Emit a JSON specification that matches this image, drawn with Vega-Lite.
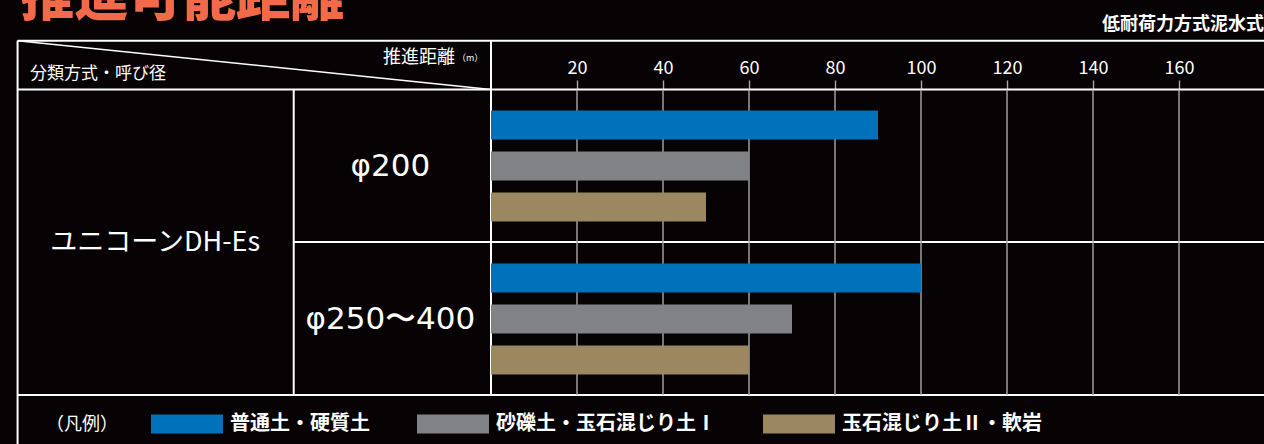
{
  "$schema": "https://vega.github.io/schema/vega-lite/v6.json",
  "width": 1264,
  "height": 444,
  "autosize": {"type": "none"},
  "padding": 0,
  "data": {"values": [{}]},
  "datasets": {
    "bars": [
      {"size": "φ200", "soil": "普通土・硬質土", "distance": 90},
      {"size": "φ200", "soil": "砂礫土・玉石混じり土Ⅰ", "distance": 60},
      {"size": "φ200", "soil": "玉石混じり土Ⅱ・軟岩", "distance": 50},
      {"size": "φ250〜400", "soil": "普通土・硬質土", "distance": 100},
      {"size": "φ250〜400", "soil": "砂礫土・玉石混じり土Ⅰ", "distance": 70},
      {"size": "φ250〜400", "soil": "玉石混じり土Ⅱ・軟岩", "distance": 60}
    ],
    "sizes": [{"size": "φ200"}, {"size": "φ250〜400"}],
    "ticks": [{"v": 20}, {"v": 40}, {"v": 60}, {"v": 80}, {"v": 100}, {"v": 120}, {"v": 140}, {"v": 160}]
  },
  "layer": [
    {
      "layer": [
        {
          "mark": {"type": "rule", "color": "#ffffff", "strokeWidth": 2},
          "encoding": {
            "x": {"datum": -110.1, "type": "quantitative"},
            "x2": {"datum": 179.77},
            "y": {"datum": -0.319, "type": "quantitative", "scale": {"domain": [-0.58497, 2.31699], "reverse": true, "nice": false, "zero": false}}
          }
        },
        {
          "mark": {"type": "rule", "color": "#ffffff", "strokeWidth": 2},
          "encoding": {"x": {"datum": -110.1}, "x2": {"datum": 179.77}, "y": {"datum": 0}}
        },
        {
          "mark": {"type": "rule", "color": "#ffffff", "strokeWidth": 2},
          "encoding": {"x": {"datum": -45.88}, "x2": {"datum": 179.77}, "y": {"datum": 0.997}}
        },
        {
          "mark": {"type": "rule", "color": "#ffffff", "strokeWidth": 2},
          "encoding": {"x": {"datum": -110.1}, "x2": {"datum": 179.77}, "y": {"datum": 1.997}}
        },
        {
          "mark": {"type": "rule", "color": "#ffffff", "strokeWidth": 2},
          "encoding": {"x": {"datum": -110.1}, "y": {"datum": -0.319}, "y2": {"datum": 2.317}}
        },
        {
          "mark": {"type": "rule", "color": "#ffffff", "strokeWidth": 2},
          "encoding": {"x": {"datum": -45.88}, "y": {"datum": 0}, "y2": {"datum": 1.997}}
        },
        {
          "mark": {"type": "rule", "color": "#ffffff", "strokeWidth": 2},
          "encoding": {"x": {"datum": 0}, "y": {"datum": -0.319}, "y2": {"datum": 1.997}}
        },
        {
          "mark": {"type": "rule", "color": "#ffffff", "strokeWidth": 1.6},
          "encoding": {"x": {"datum": -110.1}, "y": {"datum": -0.319}, "x2": {"datum": 0}, "y2": {"datum": 0}}
        },
        {
          "data": {"name": "ticks"},
          "mark": {"type": "rule", "color": "#a8a9ac", "strokeWidth": 1.4},
          "encoding": {"x": {"field": "v", "type": "quantitative"}, "y": {"datum": 0}, "y2": {"datum": 1.997}}
        },
        {
          "mark": {"type": "text", "text": "推進可能距離", "align": "left", "baseline": "alphabetic", "fontSize": 54, "fontWeight": 900, "color": "#f26a4a"},
          "encoding": {"x": {"datum": -109.5}, "y": {"datum": -0.4804}}
        },
        {
          "mark": {"type": "text", "text": "低耐荷力方式泥水式", "align": "right", "baseline": "middle", "fontSize": 18, "fontWeight": "bold", "color": "#ffffff"},
          "encoding": {"x": {"datum": 179.77}, "y": {"datum": -0.42}}
        },
        {
          "mark": {"type": "text", "text": "推進距離", "align": "right", "baseline": "middle", "fontSize": 18, "color": "#ffffff"},
          "encoding": {"x": {"datum": -8.4}, "y": {"datum": -0.206}}
        },
        {
          "mark": {"type": "text", "text": "（m）", "align": "left", "baseline": "middle", "fontSize": 9, "color": "#ffffff"},
          "encoding": {"x": {"datum": -7.9}, "y": {"datum": -0.206}}
        },
        {
          "mark": {"type": "text", "text": "分類方式・呼び径", "align": "left", "baseline": "middle", "fontSize": 17, "color": "#ffffff"},
          "encoding": {"x": {"datum": -107.2}, "y": {"datum": -0.101}}
        },
        {
          "mark": {"type": "text", "text": "ユニコーンDH-Es", "align": "center", "baseline": "middle", "fontSize": 27, "color": "#ffffff"},
          "encoding": {"x": {"datum": -78.1}, "y": {"datum": 1.0}}
        }
      ]
    },
    {
      "layer": [
        {
          "data": {"name": "bars"},
          "mark": {"type": "bar"},
          "encoding": {
            "x": {
              "field": "distance", "type": "quantitative",
              "scale": {"domain": [-114.186, 179.767], "nice": false, "zero": false},
              "axis": {
                "orient": "top", "offset": -89.5, "values": [20, 40, 60, 80, 100, 120, 140, 160],
                "domain": false, "grid": false, "ticks": true, "tickSize": 9.5, "tickColor": "#a8a9ac", "tickWidth": 1.4,
                "labelColor": "#ffffff", "labelFontSize": 18, "labelPadding": 3, "labelFlush": false, "labelOverlap": false, "title": null
              }
            },
            "x2": {"datum": 0},
            "y": {
              "field": "size", "type": "nominal", "sort": ["φ200", "φ250〜400"],
              "scale": {"paddingInner": 0, "paddingOuter": 0.451, "align": 0.6486},
              "axis": null
            },
            "yOffset": {
              "field": "soil", "type": "nominal",
              "sort": ["普通土・硬質土", "砂礫土・玉石混じり土Ⅰ", "玉石混じり土Ⅱ・軟岩"],
              "scale": {"paddingInner": 0.2927, "paddingOuter": 0.5122}
            },
            "color": {
              "field": "soil", "type": "nominal",
              "scale": {"domain": ["普通土・硬質土", "砂礫土・玉石混じり土Ⅰ", "玉石混じり土Ⅱ・軟岩"], "range": ["#0072bc", "#808285", "#9b8860"]},
              "legend": {
                "orient": "none", "legendX": 46, "legendY": 405, "direction": "horizontal", "padding": 0,
                "title": "（凡例）", "titleOrient": "left", "titleAnchor": "middle", "titleColor": "#ffffff", "titleFontSize": 18, "titleFontWeight": "normal", "titlePadding": 50, "titleBaseline": "line-top", "titleLineHeight": 10,
                "symbolType": "M-1.895,-0.5H1.895V0.5H-1.895Z", "symbolSize": 1444, "symbolStrokeWidth": 0, "symbolOpacity": 1,
                "labelColor": "#ffffff", "labelFontSize": 20, "labelFontWeight": "bold", "labelOffset": 24, "columnPadding": 46, "labelLimit": 400
              }
            }
          }
        },
        {
          "data": {"name": "sizes"},
          "mark": {"type": "text", "align": "center", "baseline": "middle", "fontSize": 31, "font": "DejaVu Sans", "color": "#ffffff", "dy": 1},
          "encoding": {
            "x": {"datum": -23.4},
            "y": {"field": "size", "type": "nominal", "sort": ["φ200", "φ250〜400"]},
            "text": {"field": "size", "type": "nominal"}
          }
        }
      ]
    }
  ],
  "resolve": {"scale": {"y": "independent"}},
  "config": {
    "background": "#070203",
    "view": {"stroke": null},
    "font": "Noto Sans CJK JP",
    "axis": {"grid": false},
    "axisY": {"disable": true},
    "legend": {"labelFont": "Noto Sans CJK JP", "titleFont": "Noto Sans CJK JP"}
  }
}
